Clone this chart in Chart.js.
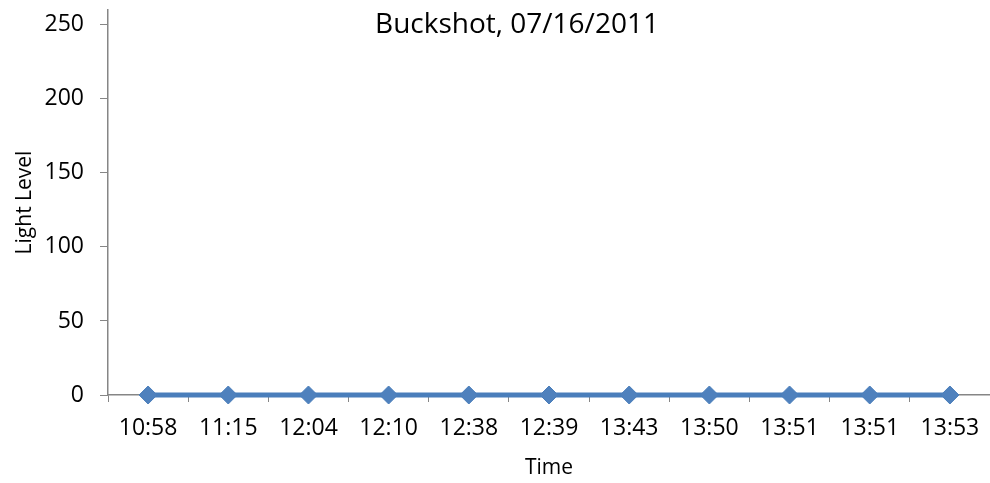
<!DOCTYPE html>
<html>
<head>
<meta charset="utf-8">
<script src="https://cdn.jsdelivr.net/npm/chart.js@4"></script>
<style>
  html, body { margin: 0; padding: 0; background: #fff; overflow: hidden; }
  #wrap { width: 1000px; height: 483px; }
</style>
</head>
<body>
<div id="wrap"><canvas id="lightChart" width="1000" height="483"></canvas></div>
<script>
// chart data
const times = ['10:58', '11:15', '12:04', '12:10', '12:38', '12:39', '13:43', '13:50', '13:51', '13:51', '13:53'];
const lightLevels = [0, 0, 0, 0, 0, 0, 0, 0, 0, 0, 0];
const yTicks = [0, 50, 100, 150, 200, 250];
const chartTitle = 'Buckshot, 07/16/2011';

const FONT = "'Open Sans', 'Liberation Sans', sans-serif";
const axisGrey = '#868686';

// title sits inside the plot area, so draw it by hand
const titleInside = {
    id: 'titleInside',
    afterDraw(chart) {
        const ctx = chart.ctx;
        ctx.save();
        ctx.font = '28px ' + FONT;
        ctx.fillStyle = '#000';
        ctx.textAlign = 'center';
        ctx.textBaseline = 'middle';
        ctx.fillText(chartTitle, 517, 25);
        ctx.restore();
    }
};

const ctx = document.getElementById('lightChart').getContext('2d');
const lightChart = new Chart(ctx, {
    type: 'line',
    data: {
        labels: times,
        datasets: [{
            label: 'Light Level',
            data: lightLevels,
            borderColor: '#4A7EBB',
            backgroundColor: '#4F81BD',
            borderWidth: 5,
            pointStyle: 'rectRot',
            pointRadius: 9,
            pointBorderWidth: 1,
            pointBorderColor: '#4A7EBB',
            pointBackgroundColor: '#4F81BD',
            fill: false,
            tension: 0,
            clip: false
        }]
    },
    options: {
        responsive: false,
        animation: false,
        layout: { padding: { top: 6, right: 1, left: 0, bottom: 0 } },
        plugins: {
            legend: { display: false },
            tooltip: { enabled: false }
        },
        scales: {
            x: {
                offset: true,
                grid: {
                    display: true,
                    offset: true,
                    drawOnChartArea: false,
                    color: axisGrey,
                    tickLength: 7,
                    tickWidth: 1
                },
                border: { color: axisGrey, width: 1.5 },
                ticks: {
                    color: '#000',
                    font: { family: FONT, size: 23 },
                    padding: 13,
                    maxRotation: 0,
                    autoSkip: false
                },
                title: {
                    display: true,
                    text: 'Time',
                    color: '#000',
                    font: { family: FONT, size: 21 },
                    padding: { top: 2, bottom: 2 }
                },
                afterFit(scale) {
                    scale.height = 88;
                    scale.paddingLeft = 0;
                    scale.paddingRight = 0;
                }
            },
            y: {
                min: 0,
                max: 260,
                afterBuildTicks(scale) {
                    scale.ticks = yTicks.map(v => ({ value: v }));
                },
                grid: {
                    display: true,
                    drawOnChartArea: false,
                    color: axisGrey,
                    tickLength: 8,
                    tickWidth: 1
                },
                border: { color: axisGrey, width: 1.5 },
                ticks: {
                    color: '#000',
                    font: { family: FONT, size: 23 },
                    padding: 16
                },
                title: {
                    display: true,
                    text: 'Light Level',
                    color: '#000',
                    font: { family: FONT, size: 21 },
                    padding: { top: 12, bottom: 0 }
                },
                afterFit(scale) {
                    scale.width = 108;
                    scale.paddingTop = 0;
                    scale.paddingBottom = 0;
                }
            }
        }
    },
    plugins: [titleInside]
});
</script>
</body>
</html>
